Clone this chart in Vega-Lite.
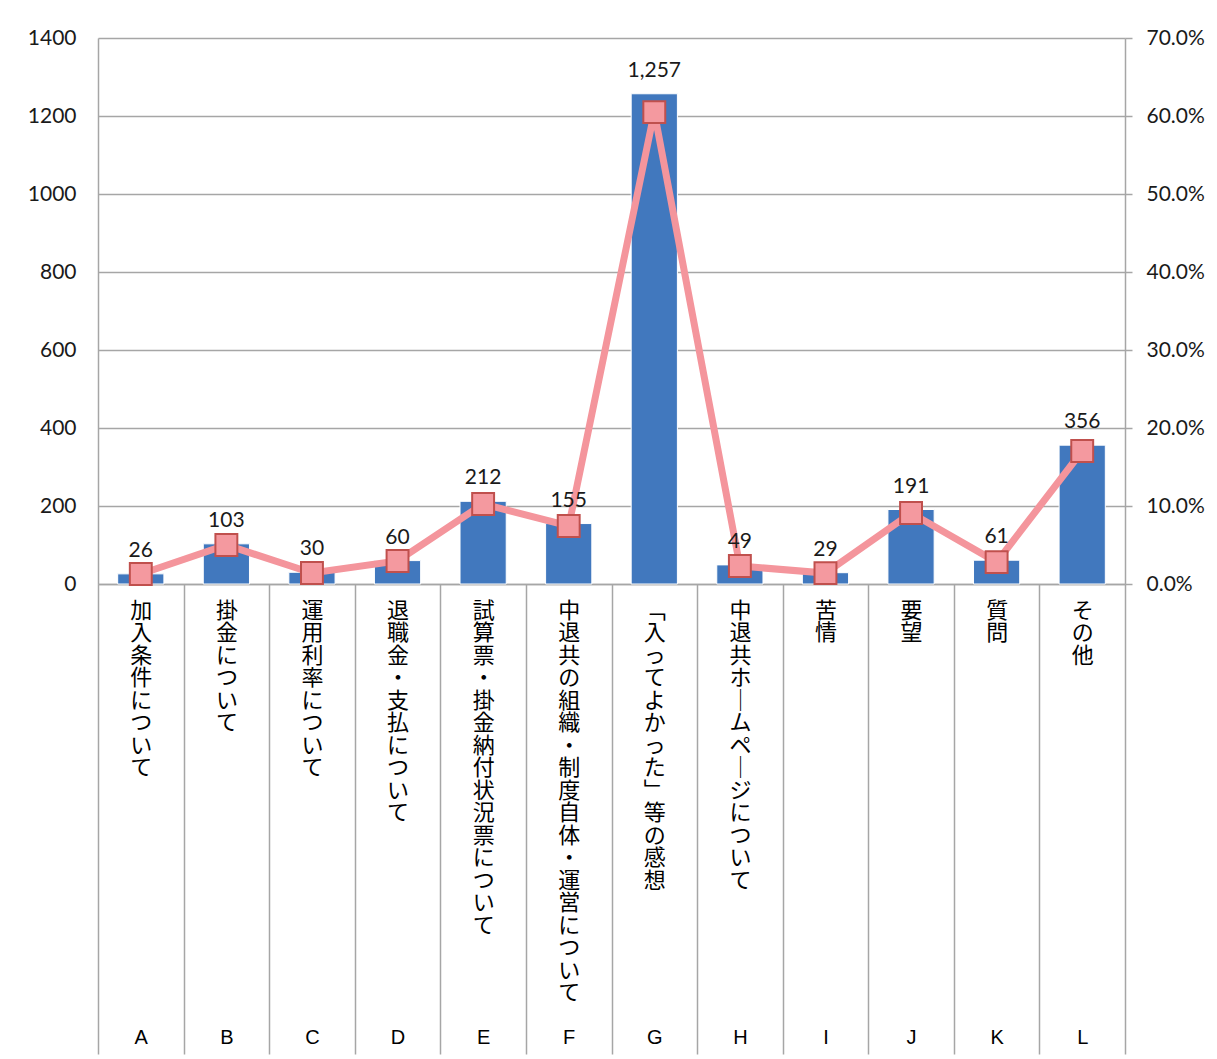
{
  "$schema": "https://vega.github.io/schema/vega-lite/v6.json",
  "width": 1027,
  "height": 546,
  "autosize": "none",
  "padding": {"left": 98, "top": 38, "right": 92, "bottom": 475},
  "background": "white",
  "config": {"view": {"stroke": null}, "font": "Lato"},
  "data": {"values": [
    {"code": "A", "item": "加入条件について", "count": 26, "pct": 0.0128},
    {"code": "B", "item": "掛金について", "count": 103, "pct": 0.050},
    {"code": "C", "item": "運用利率について", "count": 30, "pct": 0.0141},
    {"code": "D", "item": "退職金・支払について", "count": 60, "pct": 0.0295},
    {"code": "E", "item": "試算票・掛金納付状況票について", "count": 212, "pct": 0.1026},
    {"code": "F", "item": "中退共の組織・制度自体・運営について", "count": 155, "pct": 0.0744},
    {"code": "G", "item": "﹁入ってよかった﹂等の感想", "count": 1257, "pct": 0.605},
    {"code": "H", "item": "中退共ホ｜ムペ｜ジについて", "count": 49, "pct": 0.023},
    {"code": "I", "item": "苦情", "count": 29, "pct": 0.014},
    {"code": "J", "item": "要望", "count": 191, "pct": 0.091},
    {"code": "K", "item": "質問", "count": 61, "pct": 0.028},
    {"code": "L", "item": "その他", "count": 356, "pct": 0.1705}
  ]},
  "layer": [
    {
      "mark": {"type": "bar", "color": "#4178BE", "stroke": "#ffffff", "strokeWidth": 1, "width": {"band": 0.54}},
      "encoding": {
        "x": {"field": "item", "type": "nominal", "sort": null,
          "scale": {"type": "band", "paddingInner": 0, "paddingOuter": 0},
          "axis": {"title": null, "orient": "bottom", "labelExpr": "split(datum.label, '')", "labelAngle": 0,
            "labelFont": "Noto Sans CJK JP", "labelFontSize": 22, "labelLineHeight": 22.5, "labelColor": "#000000",
            "labelPadding": -454, "labelBaseline": "top", "labelLimit": 0,
            "tickBand": "extent", "tickSize": 470, "tickColor": "#a6a6a6", "tickWidth": 1.5,
            "domainColor": "#a6a6a6", "domainWidth": 1.5}},
        "y": {"field": "count", "type": "quantitative",
          "scale": {"domain": [0, 1400], "nice": false},
          "axis": {"title": null, "values": [0, 200, 400, 600, 800, 1000, 1200, 1400], "format": "d",
            "grid": true, "gridColor": "#a6a6a6", "gridWidth": 1.5, "ticks": false,
            "labelPadding": 22, "labelFontSize": 21, "labelColor": "#1a1a1a", "labelFont": "Lato",
            "domainColor": "#a6a6a6", "domainWidth": 1.5}}
      }
    },
    {
      "encoding": {
        "x": {"field": "code", "type": "nominal", "sort": null,
          "scale": {"type": "point", "padding": 0.5},
          "axis": {"title": null, "orient": "bottom", "labelAngle": 0, "ticks": false, "domain": false,
            "labelFont": "Liberation Sans", "labelFontSize": 20, "labelColor": "#000000",
            "labelPadding": 443, "labelBaseline": "top"}},
        "y": {"field": "pct", "type": "quantitative",
          "scale": {"domain": [0, 0.7], "nice": false},
          "axis": {"title": null, "orient": "right", "format": ".1%", "values": [0, 0.1, 0.2, 0.3, 0.4, 0.5, 0.6, 0.7],
            "grid": false, "tickSize": 7, "tickColor": "#a6a6a6", "tickWidth": 1.5,
            "labelPadding": 14, "labelFontSize": 21, "labelColor": "#1a1a1a", "labelFont": "Lato",
            "domainColor": "#a6a6a6", "domainWidth": 1.5}}
      },
      "layer": [
        {"mark": {"type": "line", "color": "#F4959C", "strokeWidth": 7}},
        {"mark": {"type": "point", "shape": "square", "filled": true, "size": 480, "fill": "#F4999F", "stroke": "#C0504D", "strokeWidth": 2, "opacity": 1}}
      ]
    },
    {
      "mark": {"type": "text", "baseline": "bottom", "dy": -13, "fontSize": 21, "font": "Lato", "color": "#1a1a1a"},
      "encoding": {
        "x": {"field": "item", "type": "nominal", "sort": null,
          "scale": {"type": "band", "paddingInner": 0, "paddingOuter": 0}, "axis": null},
        "y": {"field": "count", "type": "quantitative",
          "scale": {"domain": [0, 1400], "nice": false}, "axis": null},
        "text": {"field": "count", "type": "quantitative", "format": ","}
      }
    }
  ],
  "resolve": {"scale": {"x": "independent", "y": "independent"}}
}
